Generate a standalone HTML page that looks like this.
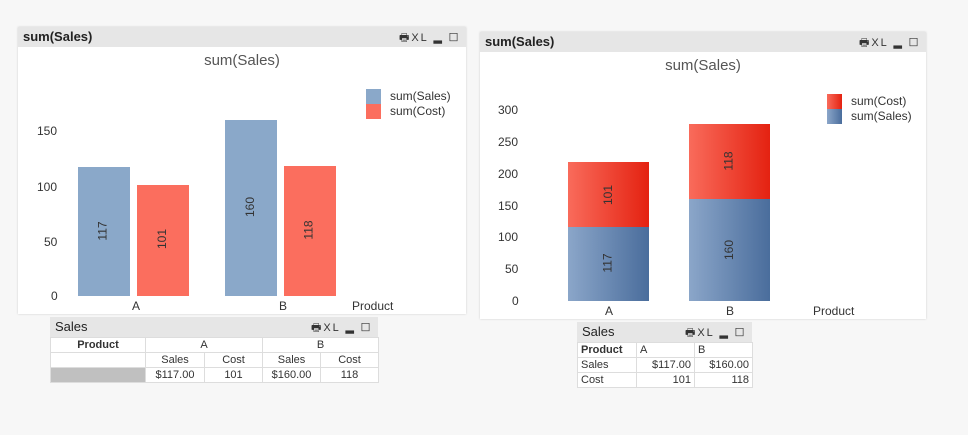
<!DOCTYPE html>
<html><head><style>
body{margin:0;width:968px;height:435px;background:#f7f7f7;position:relative;overflow:hidden;font-family:"Liberation Sans",sans-serif;color:#333}
.a{position:absolute}
.cap{background:#e6e6e6;font-weight:bold;font-size:13px;color:#222;box-sizing:border-box;padding:2px 5px}
.ico{position:absolute;right:6px;top:2px;font-size:11px;font-weight:normal;color:#333;letter-spacing:2px}
.t{font-size:12px;color:#333;white-space:nowrap}
.r{transform:rotate(-90deg);font-size:12px;color:#333}
table{border-collapse:collapse;font-size:11px;font-family:"Liberation Sans",sans-serif}
td{border:1px solid #ddd;padding:0 3px;height:14px;background:#fff;color:#333}
</style></head><body>
<!-- left chart -->
<div class="a" style="left:18px;top:27px;width:448px;height:287px;background:#fff;box-shadow:0 0 2px #ccc"></div>
<div class="a cap" style="left:18px;top:27px;width:448px;height:20px">sum(Sales)<span class="ico">&#x1F5B6;XL ▂ ☐</span></div>
<div class="a" style="left:18px;top:52px;width:448px;text-align:center;font-size:15px;color:#555">sum(Sales)</div>
<div class="a t" style="left:37px;top:124px">150</div>
<div class="a t" style="left:37px;top:180px">100</div>
<div class="a t" style="left:44px;top:235px">50</div>
<div class="a t" style="left:51px;top:289px">0</div>
<div class="a" style="left:78px;top:167px;width:52px;height:129px;background:#8aa8c9"></div>
<div class="a" style="left:137px;top:185px;width:52px;height:111px;background:#fb6e5e"></div>
<div class="a" style="left:225px;top:120px;width:52px;height:176px;background:#8aa8c9"></div>
<div class="a" style="left:284px;top:166px;width:52px;height:130px;background:#fb6e5e"></div>
<div class="a r" style="left:93px;top:224px">117</div>
<div class="a r" style="left:152px;top:232px">101</div>
<div class="a r" style="left:240px;top:200px">160</div>
<div class="a r" style="left:299px;top:223px">118</div>
<div class="a t" style="left:132px;top:299px">A</div>
<div class="a t" style="left:279px;top:299px">B</div>
<div class="a t" style="left:352px;top:299px">Product</div>
<div class="a" style="left:366px;top:89px;width:15px;height:15px;background:#8aa8c9"></div>
<div class="a" style="left:366px;top:104px;width:15px;height:15px;background:#fb6e5e"></div>
<div class="a t" style="left:390px;top:89px">sum(Sales)</div>
<div class="a t" style="left:390px;top:104px">sum(Cost)</div>
<!-- right chart -->
<div class="a" style="left:480px;top:32px;width:446px;height:287px;background:#fff;box-shadow:0 0 2px #ccc"></div>
<div class="a cap" style="left:480px;top:32px;width:446px;height:20px">sum(Sales)<span class="ico">&#x1F5B6;XL ▂ ☐</span></div>
<div class="a" style="left:480px;top:57px;width:446px;text-align:center;font-size:15px;color:#555">sum(Sales)</div>
<div class="a t" style="left:498px;top:103px">300</div>
<div class="a t" style="left:498px;top:135px">250</div>
<div class="a t" style="left:498px;top:167px">200</div>
<div class="a t" style="left:498px;top:199px">150</div>
<div class="a t" style="left:498px;top:230px">100</div>
<div class="a t" style="left:505px;top:262px">50</div>
<div class="a t" style="left:512px;top:294px">0</div>
<div class="a" style="left:568px;top:227px;width:81px;height:74px;background:linear-gradient(90deg,#8ba6c9,#4a6d9c)"></div>
<div class="a" style="left:568px;top:162px;width:81px;height:65px;background:linear-gradient(90deg,#f96b5b,#e42211)"></div>
<div class="a" style="left:689px;top:199px;width:81px;height:102px;background:linear-gradient(90deg,#8ba6c9,#4a6d9c)"></div>
<div class="a" style="left:689px;top:124px;width:81px;height:75px;background:linear-gradient(90deg,#f96b5b,#e42211)"></div>
<div class="a r" style="left:598px;top:256px">117</div>
<div class="a r" style="left:598px;top:188px">101</div>
<div class="a r" style="left:719px;top:243px">160</div>
<div class="a r" style="left:719px;top:154px">118</div>
<div class="a t" style="left:605px;top:304px">A</div>
<div class="a t" style="left:726px;top:304px">B</div>
<div class="a t" style="left:813px;top:304px">Product</div>
<div class="a" style="left:827px;top:94px;width:15px;height:15px;background:linear-gradient(90deg,#f96b5b,#e42211)"></div>
<div class="a" style="left:827px;top:109px;width:15px;height:15px;background:linear-gradient(90deg,#8ba6c9,#4a6d9c)"></div>
<div class="a t" style="left:851px;top:94px">sum(Cost)</div>
<div class="a t" style="left:851px;top:109px">sum(Sales)</div>
<!-- left table -->
<div class="a cap" style="left:50px;top:317px;width:328px;height:20px;font-weight:normal;font-size:13px">Sales<span class="ico">&#x1F5B6;XL ▂ ☐</span></div>
<table class="a" style="left:50px;top:337px;width:329px">
<tr><td style="width:88px;text-align:center;font-weight:bold">Product</td><td colspan="2" style="text-align:center">A</td><td colspan="2" style="text-align:center">B</td></tr>
<tr><td></td><td style="text-align:center;width:52px">Sales</td><td style="text-align:center;width:51px">Cost</td><td style="text-align:center;width:51px">Sales</td><td style="text-align:center">Cost</td></tr>
<tr><td style="background:#c0c0c0"></td><td style="text-align:center">$117.00</td><td style="text-align:center">101</td><td style="text-align:center">$160.00</td><td style="text-align:center">118</td></tr>
</table>
<!-- right table -->
<div class="a cap" style="left:577px;top:322px;width:175px;height:20px;font-weight:normal;font-size:13px">Sales<span class="ico">&#x1F5B6;XL ▂ ☐</span></div>
<table class="a" style="left:577px;top:342px;width:176px">
<tr><td style="width:52px;font-weight:bold">Product</td><td style="width:51px">A</td><td>B</td></tr>
<tr><td>Sales</td><td style="text-align:right">$117.00</td><td style="text-align:right">$160.00</td></tr>
<tr><td>Cost</td><td style="text-align:right">101</td><td style="text-align:right">118</td></tr>
</table>
</body></html>
